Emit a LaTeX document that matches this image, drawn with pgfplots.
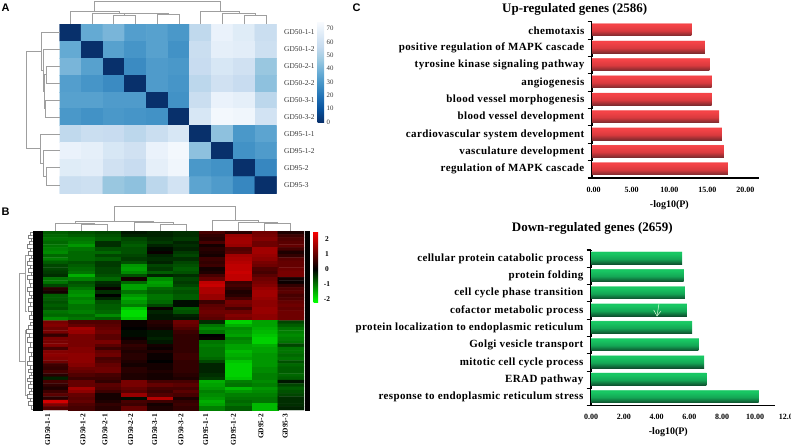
\documentclass[border=0pt]{standalone}
\usepackage{fontspec}
\setmainfont{Liberation Serif}
\newfontfamily\sansf{Liberation Sans}
\newfontfamily\spaced[LetterSpace=3.5]{Liberation Serif}
\usepackage{pgfplots}
\pgfplotsset{compat=1.18}
\definecolor{r0}{HTML}{7A2A2E}\definecolor{r1}{HTML}{D93A3E}\definecolor{r2}{HTML}{F44347}\definecolor{r3}{HTML}{FBD0D0}
\definecolor{g0}{HTML}{0E4F2E}\definecolor{g1}{HTML}{14A655}\definecolor{g2}{HTML}{18C763}\definecolor{g3}{HTML}{B8F0D0}
\pgfdeclareverticalshading{redbar}{100bp}{color(0bp)=(r0);color(25bp)=(r0);color(45bp)=(r1);color(66bp)=(r2);color(72bp)=(r2);color(75bp)=(r3);color(100bp)=(r3)}
\pgfdeclareverticalshading{greenbar}{100bp}{color(0bp)=(g0);color(25bp)=(g0);color(45bp)=(g1);color(66bp)=(g2);color(72bp)=(g2);color(75bp)=(g3);color(100bp)=(g3)}
\pgfplotsset{
 hm/.style={scale only axis, axis line style={draw=none}, tick style={draw=none}, major tick length=0pt, enlargelimits=false},
 every axis title shift=0pt,
 barax/.style={scale only axis, axis lines=left, axis line style={-,line width=1.1pt}, y dir=reverse, ymin=-0.5, ymax=8.5,
  ytick={0,...,8}, minor ytick={-0.5,0.5,...,8.5}, major tick length=0pt, minor tick length=4.5pt, tick align=outside,
  every minor tick/.style={line width=1.1pt,black}, xbar, bar width=13.2pt,
  yticklabel style={font=\spaced\bfseries\fontsize{11}{13}\selectfont, inner sep=0pt, xshift=-7.5pt},
  xticklabel style={font=\bfseries\fontsize{8}{10}\selectfont, inner sep=0pt, yshift=-8.5pt},
  title style={font=\bfseries\fontsize{13}{15}\selectfont, anchor=center, inner sep=0pt},
  xlabel style={font=\bfseries\fontsize{10}{12}\selectfont, anchor=center, inner sep=0pt}},
 rb/.style={xbar, shading=redbar, draw=none, bar shift=1.1pt},
 gb/.style={xbar, shading=greenbar, draw=none, bar shift=1pt},
 dend/.style={line width=0.8pt, color=gray!75, line join=miter, unbounded coords=jump, no markers}
}
\begin{document}
\begin{tikzpicture}
\path[use as bounding box] (0,0) rectangle (791pt,447pt);
% Panel A
\begin{axis}[hm, at={(59.5pt,253.5pt)}, anchor=south west, width=217pt, height=169.5pt,
 xmin=-0.5, xmax=9.5, ymin=-0.5, ymax=9.5, y dir=reverse, xtick=\empty,
 ytick={0,...,9}, yticklabel pos=right,
 yticklabels={GD50-1-1,GD50-1-2,GD50-2-1,GD50-2-2,GD50-3-1,GD50-3-2,GD95-1-1,GD95-1-2,GD95-2,GD95-3},
 yticklabel style={font=\fontsize{7.4}{9}\selectfont, text=black!80, anchor=west, inner sep=0pt, xshift=7.5pt},
 colormap={blu}{rgb255(0cm)=(8,48,107) rgb255(0.94cm)=(8,81,156) rgb255(1.88cm)=(33,113,181) rgb255(2.81cm)=(66,146,198) rgb255(3.75cm)=(107,174,214) rgb255(4.69cm)=(158,202,225) rgb255(5.63cm)=(198,219,239) rgb255(6.56cm)=(222,235,247) rgb255(7.56cm)=(250,252,255)},
 point meta min=0, point meta max=75.6, colorbar,
 colorbar style={at={(1.189,1.0177)}, anchor=north west, width=6.5pt, height=101pt, scale only axis,
  axis line style={draw=none}, ytick={0,10,...,70}, yticklabels={0,10,20,30,40,50,60,70}, major tick length=0pt, tick style={draw=none},
  yticklabel style={font=\fontsize{6.8}{8}\selectfont, text=black!80, anchor=west, inner sep=0pt, xshift=2.5pt}}]
\addplot[matrix plot, mesh/cols=10, point meta=explicit, faceted color=gray!60, line width=0.6pt] table[row sep=\\, header=false, meta index=0, x expr={\coordindex-10*floor((\coordindex+0.5)/10)}, y expr={floor((\coordindex+0.5)/10)}] {
0\\36\\40\\32\\33\\30\\55\\70\\66\\58\\
36\\0\\33\\29\\33\\28\\58\\68\\67\\59\\
40\\33\\0\\26\\31\\30\\57\\63\\60\\46\\
32\\29\\26\\0\\31\\29\\54\\60\\57\\44\\
33\\33\\31\\31\\0\\28\\58\\70\\68\\54\\
30\\28\\30\\29\\28\\0\\63\\73\\72\\61\\
55\\58\\57\\54\\58\\63\\0\\44\\30\\34\\
70\\68\\63\\60\\70\\73\\44\\0\\28\\31\\
66\\67\\60\\57\\68\\72\\30\\28\\0\\25\\
58\\59\\46\\44\\54\\61\\34\\31\\25\\0\\
};
\end{axis}
% Panel B
\begin{axis}[hm, at={(42.5pt,37pt)}, anchor=south west, width=261.5pt, height=179pt,
 xmin=-0.5, xmax=9.5, ymin=-0.5, ymax=53.5, y dir=reverse, ytick=\empty,
 xtick={-0.3,1.05,1.89,2.87,3.79,4.79,5.74,6.8,7.85,8.78},
 xticklabels={GD50-1-1,GD50-1-2,GD50-2-1,GD50-2-2,GD50-3-1,GD50-3-2,GD95-1-1,GD95-1-2,GD95-2,GD95-3},
 xticklabel style={font=\bfseries\fontsize{7.4}{9}\selectfont, rotate=90, anchor=east, inner sep=0pt, xshift=-4pt},
 colormap={rg}{rgb255(0cm)=(0,255,0) rgb255(2.2cm)=(0,0,0) rgb255(4.74cm)=(255,0,0)},
 point meta min=-2.2, point meta max=2.54, colorbar,
 colorbar style={at={(1.0363,1)}, anchor=north west, width=4.5pt, height=71pt, scale only axis,
  axis line style={draw=none}, ytick={-2,-1,0,1,2}, yticklabels={-2,-1,0,1,2}, major tick length=0pt, tick style={draw=none},
  yticklabel style={font=\bfseries\fontsize{7.4}{9}\selectfont, anchor=center, inner sep=0pt, xshift=9pt}}]
\addplot[matrix plot*, mesh/cols=10, point meta=explicit] table[row sep=\\, header=false, meta index=0, x expr={\coordindex-10*floor((\coordindex+0.5)/10)}, y expr={floor((\coordindex+0.5)/10)}] {
-0.8\\-0.7\\-0.6\\-0.2\\-0.3\\-0.4\\0.7\\0.4\\1.1\\0.3\\
-0.9\\-0.8\\-0.7\\-0.3\\-0.3\\-0.4\\0.5\\1.5\\1.2\\0.6\\
-1.0\\-1.0\\-0.8\\-0.6\\-0.4\\-0.5\\0.4\\1.6\\1.3\\0.8\\
-0.9\\-1.1\\-0.4\\-0.7\\-0.5\\-0.3\\0.7\\1.6\\1.1\\0.9\\
-1.0\\-1.3\\-0.4\\-0.8\\-0.3\\-0.4\\0.2\\1.5\\1.1\\1.0\\
-1.1\\-1.0\\-0.7\\-0.7\\-0.1\\-0.3\\0.4\\0.8\\1.6\\0.7\\
-1.2\\-0.9\\-0.9\\-0.7\\0.1\\-0.5\\0.3\\0.9\\1.6\\0.3\\
-0.9\\-0.9\\-0.6\\-0.6\\-0.3\\-0.6\\0.2\\1.6\\1.5\\0.5\\
-1.1\\-0.9\\-0.8\\-0.5\\-0.4\\-0.4\\0.6\\1.7\\1.4\\0.9\\
-0.8\\-0.7\\-0.5\\-0.7\\-0.3\\-0.6\\0.5\\1.8\\1.2\\1.0\\
-0.6\\-0.8\\-0.5\\-1.3\\-0.6\\-0.7\\0.6\\1.9\\1.1\\1.0\\
-0.6\\-0.9\\-0.6\\-1.4\\-0.5\\-0.8\\0.2\\1.9\\0.8\\1.1\\
-0.5\\-1.0\\-0.6\\-1.2\\-0.8\\-0.7\\0.3\\2.0\\0.7\\1.2\\
-0.4\\-1.5\\-0.7\\-0.7\\-0.3\\-0.4\\0.7\\1.9\\0.9\\1.2\\
-1.0\\-1.1\\-0.9\\0.2\\-1.2\\-0.6\\1.0\\1.9\\1.1\\0.2\\
-1.0\\-0.7\\-0.4\\-0.9\\-1.4\\-0.5\\1.9\\0.6\\1.2\\0.1\\
-0.6\\-0.8\\-0.3\\-1.4\\-1.3\\-0.6\\2.0\\0.7\\1.3\\0.5\\
0.4\\-1.0\\0.1\\-1.4\\-0.9\\-0.8\\1.7\\0.5\\1.5\\0.8\\
0.2\\-1.2\\-0.4\\-1.0\\-0.8\\-0.7\\1.7\\0.3\\1.6\\0.9\\
-0.8\\-1.3\\0.0\\-1.3\\-1.0\\-0.8\\1.5\\0.4\\1.6\\0.7\\
-0.8\\-1.1\\-0.3\\-1.5\\-1.0\\-0.8\\1.5\\0.7\\1.5\\0.8\\
-0.7\\-1.2\\-0.7\\-1.3\\-0.9\\-0.1\\0.6\\1.2\\1.4\\1.0\\
-0.8\\-1.0\\-0.8\\-1.1\\-0.6\\-0.1\\0.9\\1.1\\1.4\\1.1\\
-0.7\\-1.0\\-0.8\\-1.7\\0.1\\-0.8\\1.0\\0.7\\1.5\\1.0\\
-1.0\\-1.1\\-0.9\\-1.9\\-0.3\\-0.7\\1.1\\1.1\\1.5\\1.1\\
-0.9\\-0.9\\-1.2\\-1.9\\-0.2\\-0.3\\1.0\\1.3\\1.4\\1.1\\
-1.2\\-1.0\\-0.8\\-1.7\\-0.2\\-0.2\\0.9\\1.2\\1.4\\1.1\\
1.2\\0.8\\0.8\\0.1\\0.4\\1.1\\-0.4\\-1.8\\-1.4\\-0.6\\
1.3\\1.0\\0.9\\0.1\\0.3\\1.0\\-1.0\\-1.5\\-1.4\\-0.8\\
1.1\\1.6\\1.0\\0.0\\0.2\\0.8\\-1.2\\-1.2\\-1.5\\-1.0\\
1.2\\1.5\\1.1\\-0.1\\-0.2\\0.6\\-1.0\\-1.3\\-1.6\\-1.1\\
0.5\\1.2\\0.9\\-0.1\\-0.2\\0.5\\0.0\\-1.4\\-1.7\\-1.2\\
1.2\\1.2\\0.9\\0.1\\-0.3\\0.5\\0.1\\-1.1\\-1.8\\-1.1\\
1.2\\1.2\\1.2\\0.3\\-0.2\\0.5\\-1.0\\-1.2\\-1.8\\-1.0\\
1.3\\1.2\\0.9\\0.5\\0.2\\0.5\\-1.1\\-1.4\\-1.5\\-0.6\\
0.7\\1.3\\0.6\\0.4\\0.1\\0.5\\-1.0\\-1.4\\-1.4\\-1.0\\
1.3\\1.3\\1.0\\0.3\\0.3\\0.5\\-1.0\\-1.6\\-1.4\\-1.0\\
1.4\\1.4\\1.1\\0.4\\0.1\\0.6\\-1.0\\-1.5\\-1.3\\-0.9\\
1.3\\1.4\\0.7\\0.4\\0.1\\0.6\\-0.9\\-1.4\\-1.3\\-1.0\\
1.1\\1.4\\0.8\\0.3\\0.0\\0.5\\-0.6\\-1.7\\-1.3\\-0.7\\
0.6\\1.3\\1.0\\0.2\\0.2\\0.5\\-0.3\\-1.8\\-1.3\\-0.9\\
0.5\\1.1\\1.1\\0.4\\0.2\\0.5\\-0.3\\-1.8\\-1.2\\-0.8\\
0.7\\1.0\\1.1\\0.4\\0.3\\0.5\\-0.3\\-1.8\\-1.2\\-0.8\\
0.4\\0.8\\0.7\\0.3\\0.2\\0.4\\-0.4\\-1.8\\-1.1\\-0.9\\
-0.3\\0.6\\0.6\\0.3\\0.2\\0.3\\-0.5\\-1.7\\-1.1\\-0.8\\
0.7\\1.0\\0.5\\1.2\\0.7\\0.7\\-1.5\\-1.1\\-1.2\\-0.2\\
0.5\\1.0\\0.9\\1.2\\1.0\\0.9\\-1.4\\-1.0\\-1.1\\-0.6\\
0.3\\1.6\\0.8\\1.0\\0.7\\0.7\\-1.3\\-1.6\\-1.3\\-0.8\\
0.6\\1.4\\0.6\\0.9\\0.6\\0.9\\-1.1\\-1.3\\-1.2\\-0.7\\
0.9\\1.0\\0.2\\1.5\\0.8\\0.7\\-1.2\\-1.1\\-1.1\\-0.6\\
0.4\\0.9\\0.2\\-0.1\\1.8\\0.3\\-1.3\\-1.0\\-1.0\\-0.4\\
2.1\\1.0\\0.3\\0.7\\0.6\\0.5\\-1.5\\-0.9\\-1.0\\-0.4\\
1.3\\0.8\\0.5\\0.6\\0.2\\0.6\\-1.4\\-1.0\\-1.6\\-0.4\\
0.8\\0.7\\0.4\\1.0\\0.3\\0.5\\-1.1\\-0.8\\-1.6\\-0.3\\
};
\end{axis}
% Panel C upper
\begin{axis}[barax, at={(592pt,269pt)}, anchor=south west, width=166.7pt, height=156.3pt,
 xmin=0, xmax=22, xtick={0,5,10,15,20}, xticklabels={0.00,5.00,10.00,15.00,20.00},
 xticklabel style={xshift=1.7pt},
 yticklabels={chemotaxis,positive regulation of MAPK cascade,tyrosine kinase signaling pathway,angiogenesis,blood vessel morphogenesis,blood vessel development,cardiovascular system development,vasculature development,regulation of MAPK cascade},
 title={Up-regulated genes (2586)}, title style={at={(-0.104,1.081)}},
 xlabel={-log10(P)}, xlabel style={at={(0.464,-0.173)}}]
\addplot[rb] coordinates {(13.13,0)};
\addplot[rb] coordinates {(14.9,1)};
\addplot[rb] coordinates {(15.5,2)};
\addplot[rb] coordinates {(15.77,3)};
\addplot[rb] coordinates {(15.77,4)};
\addplot[rb] coordinates {(16.78,5)};
\addplot[rb] coordinates {(17.14,6)};
\addplot[rb] coordinates {(17.4,7)};
\addplot[rb] coordinates {(17.93,8)};
\end{axis}
% Panel C lower
\begin{axis}[barax, at={(591pt,41.3pt)}, anchor=south west, width=196.8pt, height=155.7pt,
 xmin=0, xmax=12, xtick={0,2,...,12}, xticklabels={0.00,2.00,4.00,6.00,8.00,10.00,12.00},
 x axis line style={shorten >=13pt},
 yticklabels={cellular protein catabolic process,protein folding,cell cycle phase transition,cofactor metabolic process,protein localization to endoplasmic reticulum,Golgi vesicle transport,mitotic cell cycle process,ERAD pathway,response to endoplasmic reticulum stress},
 title={Down-regulated genes (2659)}, title style={at={(0.0066,1.139)}},
 xlabel={-log10(P)}, xlabel style={at={(0.393,-0.169)}}]
\addplot[gb] coordinates {(5.55,0)};
\addplot[gb] coordinates {(5.65,1)};
\addplot[gb] coordinates {(5.73,2)};
\addplot[gb] coordinates {(5.85,3)};
\addplot[gb] coordinates {(6.16,4)};
\addplot[gb] coordinates {(6.54,5)};
\addplot[gb] coordinates {(6.89,6)};
\addplot[gb] coordinates {(7.03,7)};
\addplot[gb] coordinates {(10.22,8)};
\end{axis}
% Overlay in pixel coordinates: dendrograms, bars beside heat map, letters
\begin{axis}[at={(0,0)}, anchor=south west, scale only axis, width=791pt, height=447pt, xmin=0, xmax=791, ymin=0, ymax=447, y dir=reverse, hide axis, clip=false]
\addplot[dend] coordinates {
(94.3,11)(94.3,1.7)(220,1.7)(220,11) (nan,nan)
(70.3,24)(70.3,11)(119.3,11)(119.3,13) (nan,nan)
(92,24)(92,13)(146.7,13)(146.7,13.7) (nan,nan)
(124.7,15.7)(124.7,13.7)(168.3,13.7)(168.3,14.3) (nan,nan)
(113.7,24)(113.7,15.7)(135.3,15.7)(135.3,24) (nan,nan)
(157.3,24)(157.3,14.3)(179,14.3)(179,24) (nan,nan)
(200.7,24)(200.7,11)(239,11)(239,13.7) (nan,nan)
(222.3,24)(222.3,13.7)(255,13.7)(255,15.7) (nan,nan)
(244.3,24)(244.3,15.7)(266,15.7)(266,24) (nan,nan)
(41.7,51.7)(26.7,51.7)(26.7,148.7)(40,148.7) (nan,nan)
(59.5,32.3)(41.7,32.3)(41.7,70.7)(43.3,70.7) (nan,nan)
(59.5,49.3)(43.3,49.3)(43.3,91.7)(44,91.7) (nan,nan)
(46.7,74.7)(44,74.7)(44,108.3)(45,108.3) (nan,nan)
(59.5,66)(46.7,66)(46.7,83)(59.5,83) (nan,nan)
(59.5,100)(45,100)(45,117)(59.5,117) (nan,nan)
(59.5,134)(40,134)(40,163.3)(43.3,163.3) (nan,nan)
(59.5,150.7)(43.3,150.7)(43.3,176.3)(46.7,176.3) (nan,nan)
(59.5,167.7)(46.7,167.7)(46.7,185)(59.5,185)
};
\addplot[dend, line width=0.6pt] coordinates {
(114.3,221.7)(114.3,206)(235.3,206)(235.3,220.7) (nan,nan)
(55.7,231)(55.7,223.3)(94.7,223.3)(94.7,224) (nan,nan)
(81.7,231)(81.7,224)(107.7,224)(107.7,231) (nan,nan)
(75,223.3)(75,221.7)(153.7,221.7)(153.7,222.7) (nan,nan)
(134,231)(134,222.7)(173,222.7)(173,224.3) (nan,nan)
(160,231)(160,224.3)(186,224.3)(186,231) (nan,nan)
(212.3,231)(212.3,220.7)(258.3,220.7)(258.3,222.7) (nan,nan)
(238.3,231)(238.3,222.7)(277.7,222.7)(277.7,223.7) (nan,nan)
(264.3,231)(264.3,223.7)(290.7,223.7)(290.7,231) (nan,nan)
(25,255)(25,273.3)(19,273.3)(19,361.7)(25,361.7)(25,395) (nan,nan)
(25,273.3)(25,311.7)(27,311.7) (nan,nan)(25,255)(28,255) (nan,nan)
(25,361.7)(25,330)(27,330) (nan,nan)(25,395)(28,395)
};
\addplot[dend, line width=0.35pt, color=gray] coordinates {
(33,232)(30,232)(30,235)(33,235)(28,235)(28,238)(33,238)(31,238)(31,241)(33,241)(29,241)(29,244)(33,244)(27,244)(27,248)(33,248)(30,248)(30,251)(33,251)(28,251)(28,255)(33,255)(31,255)(31,258)(33,258)(29,258)(29,261)(33,261)(27,261)(27,265)(33,265)(30,265)(30,268)(33,268)(28,268)(28,272)(33,272)(31,272)(31,275)(33,275)(27,275)(27,279)(33,279)(29,279)(29,283)(33,283)(30,283)(30,287)(33,287)(27,287)(27,291)(33,291)(29,291)(29,295)(33,295)(31,295)(31,298)(33,298)(28,298)(28,302)(33,302)(30,302)(30,306)(33,306)(28,306)(28,311)(33,311)(31,311)(31,315)(33,315)(29,315)(29,319)(33,319) (nan,nan)
(33,322)(30,322)(30,325)(33,325)(28,325)(28,329)(33,329)(26,329)(26,333)(33,333)(29,333)(29,337)(33,337)(27,337)(27,342)(33,342)(30,342)(30,347)(33,347)(28,347)(28,352)(33,352)(31,352)(31,356)(33,356)(29,356)(29,361)(33,361)(27,361)(27,365)(33,365)(30,365)(30,369)(33,369)(28,369)(28,372)(33,372)(31,372)(31,375)(33,375)(29,375)(29,378)(33,378)(27,378)(27,381)(33,381)(30,381)(30,384)(33,384)(28,384)(28,388)(33,388)(31,388)(31,391)(33,391)(29,391)(29,394)(33,394)(27,394)(27,398)(33,398)(30,398)(30,401)(33,401)(28,401)(28,405)(33,405)(31,405)(31,409)(33,409)
};
\addplot[fill=black, draw=none] coordinates {(33,231)(42.5,231)(42.5,410.5)(33,410.5)} --cycle;
\addplot[fill=black, draw=none] coordinates {(305,231)(309.5,231)(309.5,411)(305,411)} --cycle;
\addplot[draw=white!85!green, line width=0.5pt, no markers] coordinates {(659,303.5)(657,316)};
\addplot[draw=white!85!green, line width=0.5pt, no markers] coordinates {(653.7,310)(657,316)(661,311)};
\node[font=\sansf\bfseries\fontsize{11}{13}\selectfont, anchor=west, inner sep=0pt] at (axis cs:1.5,8) {A};
\node[font=\sansf\bfseries\fontsize{11}{13}\selectfont, anchor=west, inner sep=0pt] at (axis cs:1.5,212) {B};
\node[font=\sansf\bfseries\fontsize{11}{13}\selectfont, anchor=west, inner sep=0pt] at (axis cs:352.5,8) {C};
\end{axis}
\end{tikzpicture}
\end{document}
